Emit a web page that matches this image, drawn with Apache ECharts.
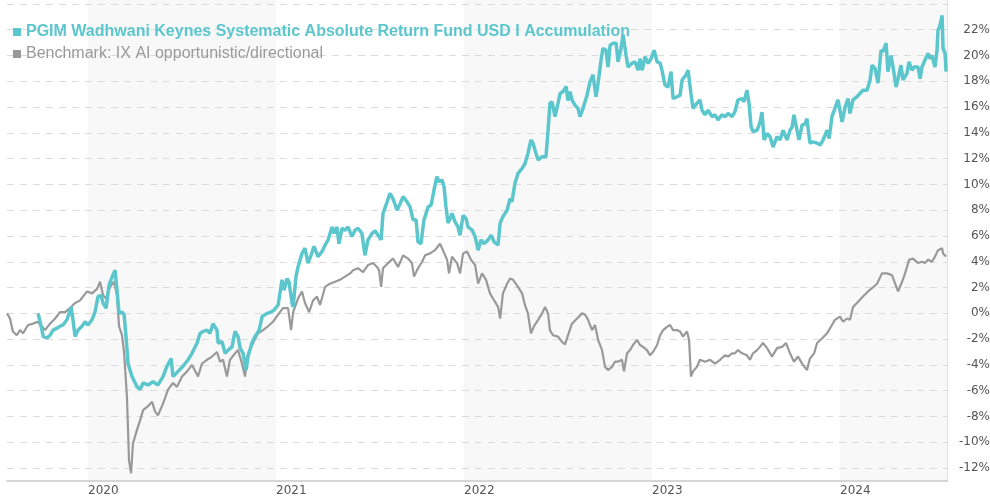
<!DOCTYPE html>
<html>
<head>
<meta charset="utf-8">
<script src="https://cdn.jsdelivr.net/npm/echarts@6/dist/echarts.min.js"></script>
<style>html,body{margin:0;padding:0;background:#fff}#main{width:990px;height:500px}</style>
</head>
<body>
<div id="main"></div>
<script>
var fundName = 'PGIM Wadhwani Keynes Systematic Absolute Return Fund USD I Accumulation';
var benchName = 'Benchmark: IX AI opportunistic/directional';

// [decimal year, cumulative return %]
var fund = [
[2019.734,0.0],[2019.741,-0.4],[2019.755,-1.3],[2019.762,-1.8],[2019.782,-1.9],[2019.798,-1.7],[2019.814,-1.3],[2019.835,-1.15],
[2019.851,-1.0],[2019.867,-0.9],[2019.888,-0.5],[2019.910,0.5],[2019.920,-0.5],[2019.931,-1.8],[2019.947,-1.3],[2019.968,-1.0],
[2019.984,-0.65],[2020.000,-0.9],[2020.021,-0.5],[2020.037,0.1],[2020.053,1.3],[2020.069,1.4],[2020.080,0.8],[2020.096,0.4],
[2020.112,2.2],[2020.133,3.0],[2020.144,3.35],[2020.154,1.8],[2020.165,0],[2020.181,0.1],[2020.192,-0.1],[2020.202,-1.8],
[2020.213,-3.9],[2020.234,-4.9],[2020.261,-5.7],[2020.277,-5.9],[2020.293,-5.4],[2020.319,-5.55],[2020.346,-5.3],[2020.372,-5.55],
[2020.399,-4.9],[2020.420,-4.1],[2020.442,-3.5],[2020.452,-4.9],[2020.479,-4.5],[2020.505,-4.1],[2020.532,-3.6],[2020.553,-3.1],
[2020.580,-2.3],[2020.596,-1.55],[2020.612,-1.4],[2020.633,-1.3],[2020.649,-1.55],[2020.665,-0.8],[2020.686,-1.3],[2020.692,-2.3],
[2020.713,-2.2],[2020.729,-3.1],[2020.745,-2.85],[2020.766,-2.6],[2020.782,-1.4],[2020.798,-1.8],[2020.809,-2.7],[2020.825,-3.1],
[2020.841,-4.4],[2020.851,-3.35],[2020.872,-2.3],[2020.888,-1.8],[2020.910,-1.3],[2020.926,-0.25],[2020.952,0],[2020.973,0.1],
[2020.989,0.25],[2021.011,0.65],[2021.032,2.6],[2021.043,1.8],[2021.059,2.7],[2021.069,2.45],[2021.085,0.8],[2021.091,0.5],
[2021.106,2.85],[2021.117,3.6],[2021.138,4.65],[2021.154,5.05],[2021.170,3.9],[2021.186,4.5],[2021.202,5.2],[2021.223,4.4],
[2021.245,4.8],[2021.261,5.3],[2021.277,5.7],[2021.298,6.7],[2021.309,6.2],[2021.324,6.7],[2021.335,5.4],[2021.351,6.6],
[2021.367,6.45],[2021.383,6.7],[2021.404,5.95],[2021.420,6.45],[2021.436,6.6],[2021.457,6.2],[2021.473,4.5],[2021.489,5.7],
[2021.511,6.2],[2021.527,6.4],[2021.543,6.05],[2021.559,5.7],[2021.569,7.75],[2021.591,8.65],[2021.606,9.3],[2021.622,8.9],
[2021.644,8.0],[2021.660,8.5],[2021.676,9.05],[2021.697,8.65],[2021.713,8.25],[2021.729,7.25],[2021.745,7.25],[2021.755,5.55],
[2021.771,5.4],[2021.787,7.25],[2021.809,8.25],[2021.825,8.4],[2021.840,9.55],[2021.856,10.6],[2021.867,10.2],[2021.883,10.35],
[2021.894,9.8],[2021.904,8.25],[2021.915,7.0],[2021.926,7.35],[2021.936,7.75],[2021.952,7.1],[2021.968,6.7],[2021.979,6.05],
[2021.995,7.6],[2022.011,7.35],[2022.021,6.7],[2022.043,6.45],[2022.059,5.95],[2022.075,4.9],[2022.090,5.7],[2022.106,5.4],
[2022.128,5.7],[2022.144,6.05],[2022.160,5.55],[2022.181,5.3],[2022.192,7.0],[2022.207,7.5],[2022.229,8.0],[2022.245,8.9],
[2022.255,8.65],[2022.271,10.1],[2022.287,10.85],[2022.309,11.25],[2022.324,11.6],[2022.340,12.4],[2022.356,13.45],[2022.367,13.2],
[2022.383,12.4],[2022.394,11.9],[2022.415,12.15],[2022.436,12.15],[2022.447,14.2],[2022.457,16.3],[2022.468,16.4],[2022.484,15.25],
[2022.500,16.3],[2022.511,17.05],[2022.527,17.2],[2022.543,17.6],[2022.553,16.5],[2022.564,17.2],[2022.574,16.55],[2022.590,16.15],
[2022.606,15.9],[2022.617,15.25],[2022.633,15.9],[2022.654,16.9],[2022.670,17.95],[2022.686,18.5],[2022.702,16.8],[2022.713,17.85],
[2022.729,19.65],[2022.739,20.55],[2022.755,20.4],[2022.766,19.1],[2022.777,20.8],[2022.793,20.95],[2022.809,20.95],[2022.819,19.5],
[2022.835,20.55],[2022.846,21.6],[2022.862,20.0],[2022.872,19.1],[2022.894,19.4],[2022.910,19.5],[2022.926,18.85],[2022.936,19.75],
[2022.947,18.85],[2022.963,19.9],[2022.979,19.4],[2022.995,19.75],[2023.011,20.4],[2023.027,19.5],[2023.043,19.4],[2023.053,18.85],
[2023.069,17.7],[2023.085,17.55],[2023.101,18.75],[2023.112,16.65],[2023.133,16.8],[2023.149,16.9],[2023.160,18.1],[2023.181,18.5],
[2023.192,18.85],[2023.207,17.05],[2023.218,15.9],[2023.239,16.3],[2023.255,16.55],[2023.266,15.75],[2023.282,15.4],[2023.298,15.75],
[2023.319,15.25],[2023.335,15.4],[2023.351,15.0],[2023.372,15.4],[2023.388,15.25],[2023.404,15.5],[2023.426,15.25],[2023.441,15.65],
[2023.457,16.55],[2023.479,16.65],[2023.489,16.4],[2023.505,17.3],[2023.516,16.3],[2023.527,14.45],[2023.537,14.1],[2023.559,14.2],
[2023.574,14.8],[2023.585,15.6],[2023.596,13.45],[2023.612,13.95],[2023.628,13.7],[2023.644,12.9],[2023.665,13.7],[2023.681,13.45],
[2023.697,14.2],[2023.718,13.45],[2023.734,14.2],[2023.745,14.45],[2023.755,15.4],[2023.771,14.2],[2023.782,13.45],[2023.798,14.6],
[2023.814,14.7],[2023.824,15.1],[2023.840,13.2],[2023.856,13.3],[2023.878,13.2],[2023.894,13.05],[2023.910,13.45],[2023.931,14.2],
[2023.942,13.55],[2023.957,15.25],[2023.973,15.9],[2023.989,16.55],[2024.011,14.85],[2024.027,16.0],[2024.043,16.65],[2024.053,15.5],
[2024.069,16.55],[2024.090,16.8],[2024.106,17.05],[2024.122,17.3],[2024.144,17.3],[2024.160,18.1],[2024.170,19.25],[2024.186,19.0],
[2024.202,17.85],[2024.218,20.4],[2024.229,20.3],[2024.245,20.95],[2024.255,18.75],[2024.271,20.0],[2024.282,19.1],[2024.298,17.55],
[2024.309,18.2],[2024.324,19.25],[2024.335,18.1],[2024.356,18.6],[2024.367,19.5],[2024.383,18.85],[2024.394,19.1],[2024.415,19.1],
[2024.426,18.2],[2024.436,19.1],[2024.452,19.65],[2024.468,20.15],[2024.479,19.75],[2024.489,20.0],[2024.505,19.1],[2024.516,20.4],
[2024.521,21.95],[2024.532,22.35],[2024.543,23.1],[2024.548,20.55],[2024.559,20.15],[2024.564,18.75]
];

var bench = [
[2019.569,0],[2019.585,-0.4],[2019.600,-1.4],[2019.621,-1.7],[2019.638,-1.3],[2019.654,-1.55],[2019.681,-0.9],[2019.708,-0.8],
[2019.729,-0.65],[2019.755,-1.0],[2019.771,-1.3],[2019.798,-0.8],[2019.825,-0.4],[2019.851,0.1],[2019.878,0.1],[2019.904,0.4],
[2019.931,0.8],[2019.957,1.0],[2019.995,1.7],[2020.021,1.55],[2020.048,1.9],[2020.064,2.45],[2020.080,1.4],[2020.096,1.15],
[2020.117,2.05],[2020.138,2.45],[2020.154,1.4],[2020.165,-1.0],[2020.181,-1.7],[2020.192,-3.1],[2020.207,-6.45],[2020.218,-11.4],
[2020.229,-12.4],[2020.239,-10.1],[2020.261,-9.0],[2020.277,-8.3],[2020.293,-7.5],[2020.319,-7.2],[2020.341,-6.85],[2020.356,-7.6],
[2020.372,-7.9],[2020.399,-7.0],[2020.426,-5.9],[2020.452,-5.4],[2020.473,-5.7],[2020.500,-4.9],[2020.527,-4.5],[2020.553,-4.0],
[2020.585,-4.9],[2020.606,-3.9],[2020.633,-3.6],[2020.660,-3.35],[2020.686,-3.0],[2020.702,-3.75],[2020.718,-3.6],[2020.739,-4.9],
[2020.755,-3.6],[2020.782,-3.1],[2020.798,-2.85],[2020.819,-3.9],[2020.835,-4.9],[2020.851,-3.1],[2020.878,-2.3],[2020.904,-1.55],
[2020.931,-1.3],[2020.957,-1.0],[2020.984,-0.65],[2021.011,-0.1],[2021.037,0.4],[2021.064,0.4],[2021.080,-1.3],[2021.091,0.1],
[2021.117,1.15],[2021.138,1.7],[2021.154,0.8],[2021.176,0.1],[2021.197,1.0],[2021.218,1.3],[2021.234,0.65],[2021.261,2.05],
[2021.287,2.3],[2021.314,2.45],[2021.340,2.6],[2021.367,2.85],[2021.394,3.1],[2021.410,3.35],[2021.436,3.5],[2021.463,3.2],
[2021.489,3.75],[2021.516,3.9],[2021.537,3.6],[2021.548,3.35],[2021.559,2.05],[2021.569,3.5],[2021.596,3.9],[2021.622,4.25],
[2021.649,3.6],[2021.676,4.5],[2021.702,4.25],[2021.723,3.9],[2021.734,2.85],[2021.755,3.5],[2021.777,4.0],[2021.793,4.5],
[2021.819,4.65],[2021.846,4.9],[2021.872,5.4],[2021.888,4.9],[2021.910,4.15],[2021.920,3.1],[2021.936,4.4],[2021.963,3.9],
[2021.979,3.1],[2021.995,4.65],[2022.016,4.8],[2022.037,4.15],[2022.059,3.75],[2022.075,2.3],[2022.096,3.1],[2022.117,2.6],
[2022.138,1.55],[2022.154,1.15],[2022.181,0.5],[2022.192,-0.4],[2022.207,1.55],[2022.229,2.3],[2022.245,2.7],[2022.261,2.6],
[2022.287,2.05],[2022.309,1.55],[2022.324,0.65],[2022.340,0],[2022.356,-1.55],[2022.372,-1.0],[2022.394,-0.5],[2022.415,0],
[2022.431,0.5],[2022.447,0],[2022.457,-1.3],[2022.473,-1.7],[2022.500,-1.8],[2022.521,-2.2],[2022.537,-2.4],[2022.553,-1.7],
[2022.574,-0.8],[2022.601,-0.4],[2022.628,0],[2022.644,-0.1],[2022.660,-0.5],[2022.681,-1.3],[2022.697,-0.9],[2022.713,-2.05],
[2022.734,-2.85],[2022.750,-4.15],[2022.766,-4.4],[2022.787,-4.15],[2022.803,-3.75],[2022.819,-3.75],[2022.840,-3.6],[2022.851,-4.5],
[2022.867,-3.1],[2022.883,-2.85],[2022.899,-2.45],[2022.920,-2.05],[2022.936,-2.45],[2022.952,-2.6],[2022.973,-2.85],[2022.989,-3.25],
[2023.005,-3.0],[2023.027,-2.45],[2023.043,-1.7],[2023.059,-1.3],[2023.080,-1.05],[2023.096,-0.9],[2023.112,-1.3],[2023.133,-1.3],
[2023.149,-1.4],[2023.165,-1.8],[2023.186,-1.4],[2023.197,-2.05],[2023.207,-4.9],[2023.218,-4.5],[2023.239,-4.15],[2023.255,-3.6],
[2023.282,-3.75],[2023.309,-3.6],[2023.335,-3.9],[2023.362,-3.6],[2023.388,-3.25],[2023.404,-3.35],[2023.426,-3.1],[2023.441,-3.1],
[2023.457,-2.85],[2023.479,-3.1],[2023.505,-3.25],[2023.521,-3.6],[2023.537,-3.1],[2023.559,-2.85],[2023.574,-2.6],[2023.590,-2.3],
[2023.612,-2.7],[2023.638,-3.35],[2023.665,-2.7],[2023.692,-2.6],[2023.713,-2.3],[2023.734,-3.1],[2023.755,-3.75],[2023.777,-3.35],
[2023.798,-3.9],[2023.824,-4.4],[2023.840,-3.5],[2023.862,-3.1],[2023.878,-2.3],[2023.904,-1.95],[2023.931,-1.55],[2023.947,-1.15],
[2023.973,-0.5],[2024.000,-0.25],[2024.016,-0.65],[2024.037,-0.4],[2024.053,-0.5],[2024.069,0.5],[2024.096,0.9],[2024.122,1.3],
[2024.149,1.7],[2024.170,1.95],[2024.197,2.3],[2024.223,3.1],[2024.250,3.1],[2024.277,2.95],[2024.293,2.3],[2024.309,1.7],
[2024.330,2.45],[2024.346,3.1],[2024.367,4.15],[2024.388,4.25],[2024.415,3.9],[2024.436,4.0],[2024.452,3.9],[2024.468,4.15],
[2024.489,4.0],[2024.505,4.4],[2024.521,4.9],[2024.543,5.05],[2024.548,4.65],[2024.564,4.4]
];

var xStart = 2019.569, xEnd = 2024.569;
var yearTicks = [2020, 2021, 2022, 2023, 2024];
var shadedYears = [[2020, 2021], [2022, 2023], [2024, xEnd]];
var yLabelValues = [-12, -10, -8, -6, -4, -2, 0, 2, 4, 6, 8, 10, 12, 14, 16, 18, 20, 22];
var yGridValues = yLabelValues.concat([24]);

var fundColor = '#5bc7cd';
var benchColor = '#999999';

var chart = echarts.init(document.getElementById('main'), null, {renderer: 'canvas'});

var option = {
	animation: false,
	backgroundColor: '#ffffff',
	grid: {left: 7, right: 43, top: 0, bottom: 19, containLabel: false, outerBoundsMode: 'none'},
	legend: {
		left: 8,
		top: 19,
		orient: 'vertical',
		itemGap: 6,
		itemWidth: 8,
		itemHeight: 8,
		icon: 'rect',
		data: [
			{name: fundName, textStyle: {color: fundColor, fontWeight: 'bold', fontSize: 16, fontFamily: 'Liberation Sans, Arial, sans-serif'}},
			{name: benchName, textStyle: {color: benchColor, fontSize: 16, fontFamily: 'Liberation Sans, Arial, sans-serif'}}
		]
	},
	xAxis: {
		type: 'value',
		min: xStart,
		max: xEnd,
		axisLine: {show: true, onZero: false, lineStyle: {color: '#d6d6d6', width: 2}},
		axisTick: {show: false},
		splitLine: {show: false},
		axisLabel: {
			customValues: yearTicks,
			align: 'left',
			margin: 4,
			color: '#555',
			fontSize: 12,
			fontFamily: 'DejaVu Sans',
			formatter: function (v) { return String(Math.round(v)); }
		}
	},
	yAxis: {
		type: 'value',
		position: 'right',
		min: -13,
		max: 24.3,
		axisLine: {show: true, lineStyle: {color: '#e2e2e2', width: 1}},
		axisTick: {show: false, customValues: yGridValues},
		splitLine: {show: true, lineStyle: {color: '#dcdcdc', type: [7, 6], width: 1}},
		axisLabel: {
			customValues: yLabelValues,
			align: 'right',
			margin: 43,
			color: '#555',
			fontSize: 12,
			fontFamily: 'DejaVu Sans',
			formatter: function (v) { return v + '%'; }
		}
	},
	series: [
		{
			name: 'bands',
			type: 'line',
			data: [],
			z: -1,
			silent: true,
			markArea: {
				silent: true,
				z: -1,
				itemStyle: {color: '#f8f8f8'},
				data: shadedYears.map(function (b) { return [{xAxis: b[0]}, {xAxis: b[1]}]; })
			}
		},
		{
			name: fundName,
			type: 'line',
			data: fund,
			showSymbol: false,
			symbol: 'none',
			z: 3,
			lineStyle: {color: fundColor, width: 3.5},
			itemStyle: {color: fundColor}
		},
		{
			name: benchName,
			type: 'line',
			data: bench,
			showSymbol: false,
			symbol: 'none',
			z: 2,
			lineStyle: {color: benchColor, width: 2.2},
			itemStyle: {color: benchColor}
		}
	]
};

chart.setOption(option);
</script>
</body>
</html>
